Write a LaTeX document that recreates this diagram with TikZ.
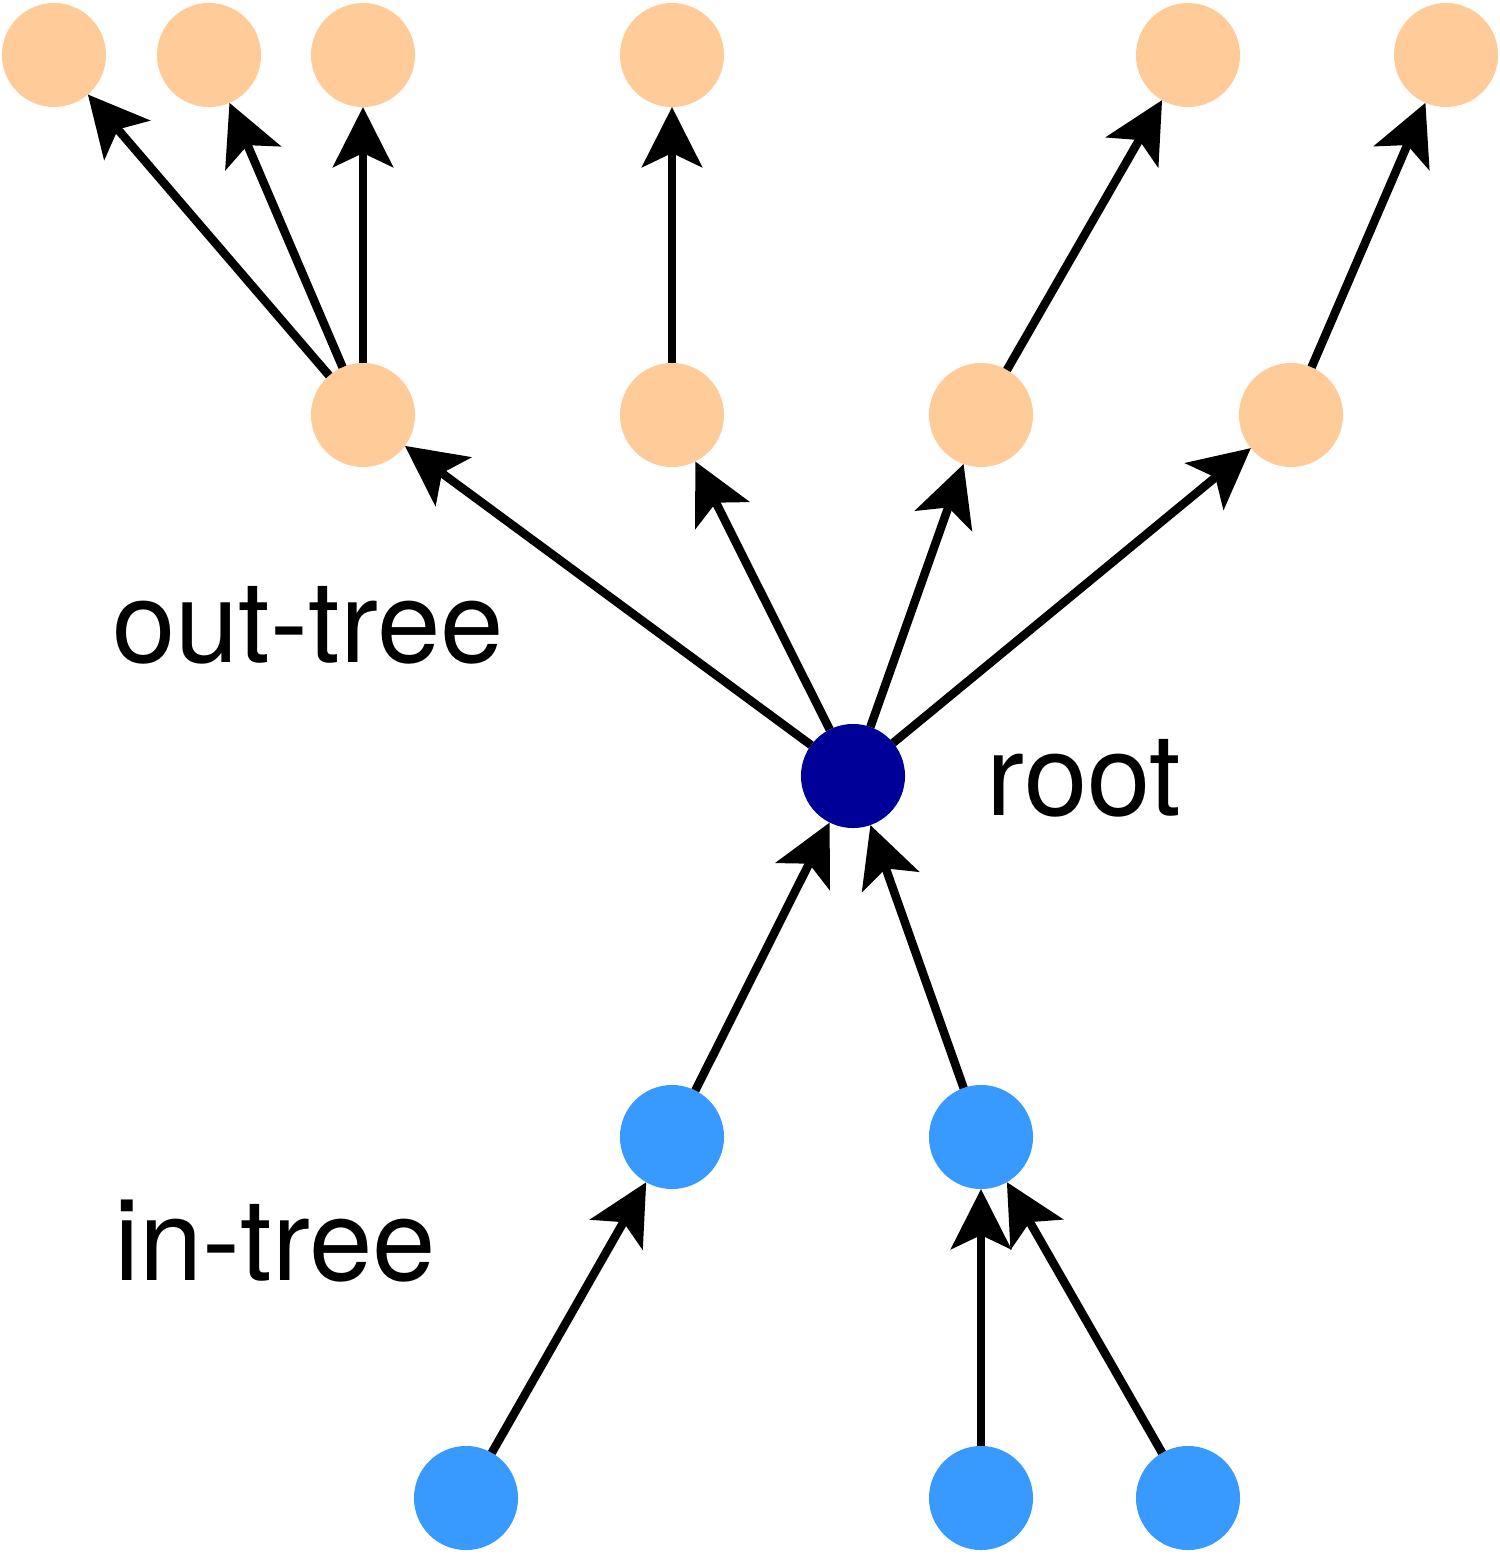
\documentclass[tikz,border=0pt]{standalone}
\usepackage{fontspec}
\setmainfont{TeX Gyre Heros}
\usetikzlibrary{arrows.meta}
\definecolor{outColor}{RGB}{255,204,153}
\definecolor{inColor}{RGB}{56,153,255}
\definecolor{rootColor}{RGB}{0,0,153}
\tikzstyle{treeNode} = [circle, inner sep=0, outer sep=0, minimum size=1.04cm]
\tikzstyle{outNode} = [treeNode, fill=outColor]
\tikzstyle{inNode} = [treeNode, fill=inColor]
\tikzstyle{rootNode} = [treeNode, fill=rootColor]
\tikzstyle{edgeStyle} = [line width=.085cm, -{Stealth[length=.6cm, width=.6cm, inset=.14cm]}]
\tikzstyle{treeLabel} = [font=\fontsize{32.4}{40}\selectfont, anchor=base, inner sep=0]
\newcommand{\treeEdge}[2]{\draw [edgeStyle] (#1) -- (#2);}

\begin{document}
\begin{tikzpicture}[x = .01cm, y = -.01cm]
  \useasboundingbox (0,0) rectangle (1500,1557);

  % root
  \node [rootNode] (root) at (853,776) {};

  % out-tree
  \node [outNode] (outA) at (363,415) {};
  \node [outNode] (outB) at (672,415) {};
  \node [outNode] (outC) at (981,415) {};
  \node [outNode] (outD) at (1291,415) {};
  \node [outNode] (leafA) at (54,55) {};
  \node [outNode] (leafB) at (209,55) {};
  \node [outNode] (leafC) at (363,55) {};
  \node [outNode] (leafD) at (672,55) {};
  \node [outNode] (leafE) at (1188,55) {};
  \node [outNode] (leafF) at (1446,55) {};

  % in-tree
  \node [inNode] (inA) at (672,1137) {};
  \node [inNode] (inB) at (981,1137) {};
  \node [inNode] (srcA) at (466,1498) {};
  \node [inNode] (srcB) at (981,1498) {};
  \node [inNode] (srcC) at (1188,1498) {};

  \treeEdge{root}{outA}
  \treeEdge{root}{outB}
  \treeEdge{root}{outC}
  \treeEdge{root}{outD}
  \treeEdge{outA}{leafA}
  \treeEdge{outA}{leafB}
  \treeEdge{outA}{leafC}
  \treeEdge{outB}{leafD}
  \treeEdge{outC}{leafE}
  \treeEdge{outD}{leafF}

  \treeEdge{inA}{root}
  \treeEdge{inB}{root}
  \treeEdge{srcA}{inA}
  \treeEdge{srcB}{inB}
  \treeEdge{srcC}{inB}

  \node [treeLabel] (outLabel) at (308,662) {out-tree};
  \node [treeLabel] (rootLabel) at (1084,815) {root};
  \node [treeLabel] (inLabel) at (275,1280) {in-tree};
\end{tikzpicture}
\end{document}
